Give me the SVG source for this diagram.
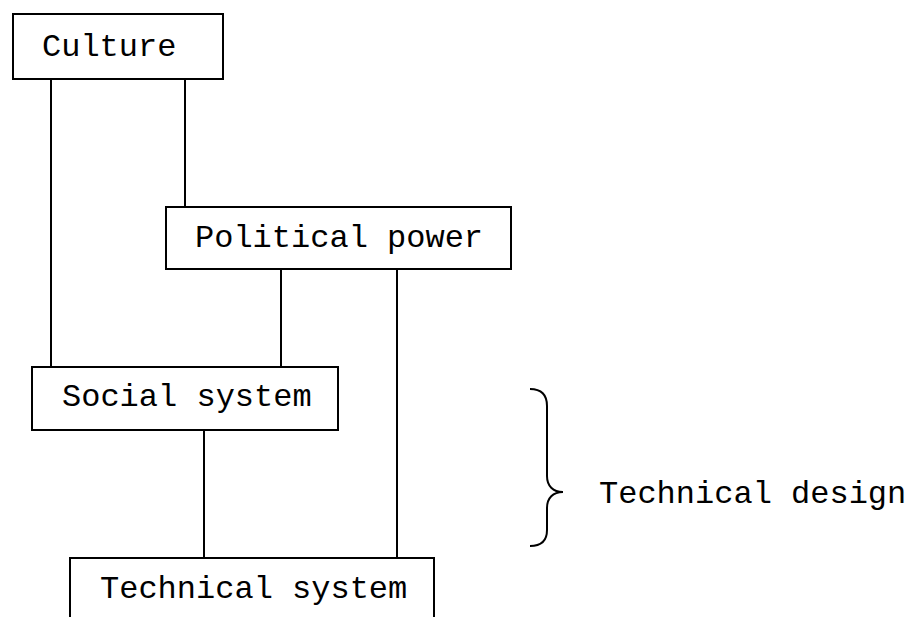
<svg xmlns="http://www.w3.org/2000/svg" width="909" height="617" viewBox="0 0 909 617">
<style>
.box{fill:#fff;stroke:#000;stroke-width:2}
.ln{fill:none;stroke:#000;stroke-width:2}
text{font-family:"Liberation Mono","Courier New",monospace;font-size:32px;fill:#000}
</style>
<rect width="909" height="617" fill="#fff"/>
<g id="connectors">
<line class="ln" x1="51" y1="79" x2="51" y2="367"/>
<line class="ln" x1="185" y1="79" x2="185" y2="207"/>
<line class="ln" x1="281" y1="269" x2="281" y2="367"/>
<line class="ln" x1="397" y1="269" x2="397" y2="558"/>
<line class="ln" x1="204" y1="430" x2="204" y2="558"/>
</g>
<g id="culture">
<rect class="box" x="13" y="14" width="210" height="65"/>
<text x="42" y="56">Culture</text>
</g>
<g id="political-power">
<rect class="box" x="166" y="207" width="345" height="62"/>
<text x="195" y="247">Political power</text>
</g>
<g id="social-system">
<rect class="box" x="32" y="367" width="306" height="63"/>
<text x="62" y="406">Social system</text>
</g>
<g id="technical-system">
<path class="ln" d="M70,620 V558 H434 V620"/>
<text x="100" y="598">Technical system</text>
</g>
<g id="technical-design">
<path class="ln" d="M530,389 C542,389 547,396 547,406 L547,476 C547,486 553,492 563,492 C553,492 547,498 547,508 L547,530 C547,540 542,546 530,546"/>
<text x="599" y="503">Technical design</text>
</g>
</svg>
